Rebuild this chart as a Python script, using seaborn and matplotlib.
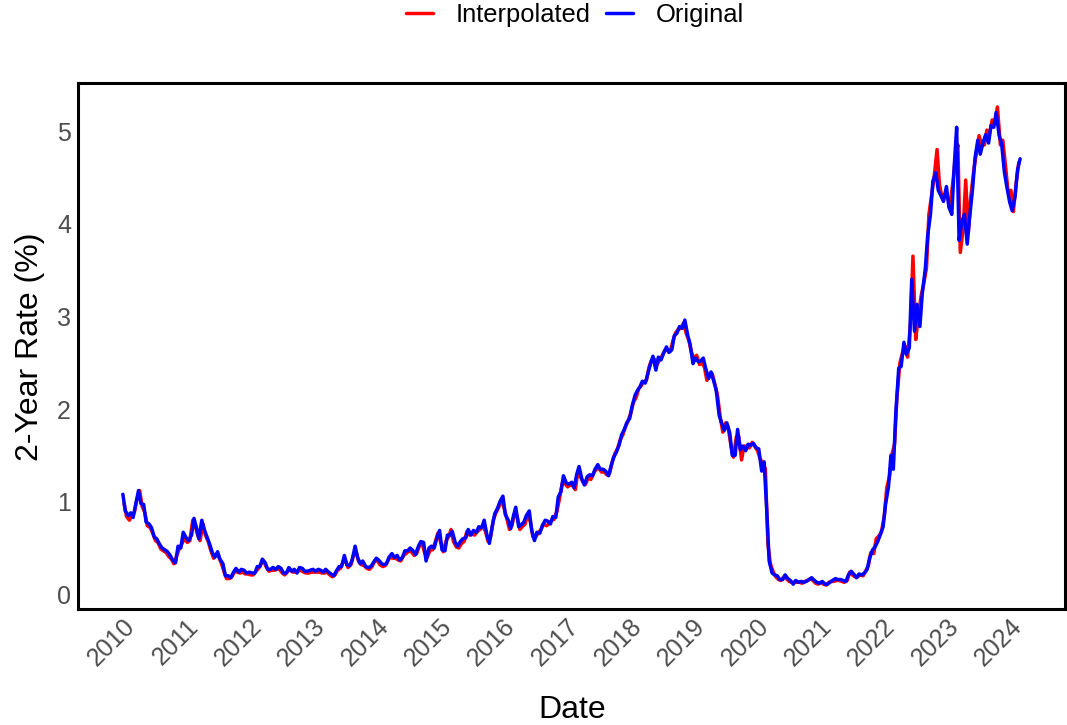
import matplotlib
matplotlib.use("Agg")
import matplotlib.pyplot as plt
import matplotlib.dates as mdates
import numpy as np
import pandas as pd
import seaborn as sns

# 2-year Treasury rate (%), observed twice a month (1st and 15th), Jan 2010 - Mar 2024
original = [
    # 2010
    1.08, 0.90, 0.85, 0.88, 0.83, 0.96, 1.12, 0.98, 0.97, 0.78, 0.76, 0.72,
    0.62, 0.60, 0.54, 0.50, 0.48, 0.46, 0.42, 0.37, 0.34, 0.52, 0.50, 0.67,
    # 2011
    0.61, 0.58, 0.64, 0.82, 0.72, 0.60, 0.80, 0.70, 0.62, 0.55, 0.45, 0.40,
    0.46, 0.38, 0.33, 0.20, 0.20, 0.18, 0.24, 0.28, 0.24, 0.27, 0.26, 0.23,
    # 2012
    0.24, 0.23, 0.23, 0.30, 0.30, 0.38, 0.34, 0.27, 0.27, 0.29, 0.27, 0.30,
    0.28, 0.23, 0.23, 0.29, 0.25, 0.27, 0.23, 0.29, 0.28, 0.25, 0.25, 0.26,
    # 2013
    0.27, 0.25, 0.27, 0.26, 0.24, 0.27, 0.24, 0.22, 0.20, 0.25, 0.30, 0.30,
    0.42, 0.32, 0.31, 0.37, 0.52, 0.40, 0.33, 0.36, 0.30, 0.29, 0.30, 0.34,
    # 2014
    0.39, 0.37, 0.33, 0.32, 0.33, 0.40, 0.44, 0.40, 0.42, 0.37, 0.40, 0.47,
    0.47, 0.50, 0.47, 0.43, 0.52, 0.57, 0.56, 0.36, 0.50, 0.52, 0.50, 0.60,
    # 2015
    0.69, 0.48, 0.47, 0.64, 0.64, 0.68, 0.56, 0.52, 0.57, 0.60, 0.61, 0.70,
    0.64, 0.69, 0.67, 0.73, 0.72, 0.80, 0.64, 0.55, 0.74, 0.87, 0.93, 1.00,
    # 2016
    1.06, 0.86, 0.80, 0.71, 0.84, 0.94, 0.73, 0.75, 0.78, 0.85, 0.90, 0.69,
    0.58, 0.67, 0.66, 0.74, 0.80, 0.79, 0.76, 0.84, 0.83, 1.05, 1.11, 1.28,
    # 2017
    1.20, 1.19, 1.21, 1.15, 1.29, 1.38, 1.24, 1.18, 1.27, 1.29, 1.28, 1.35,
    1.40, 1.35, 1.35, 1.33, 1.28, 1.38, 1.48, 1.53, 1.61, 1.72, 1.78, 1.85,
    # 2018
    1.90, 2.03, 2.15, 2.20, 2.24, 2.30, 2.28, 2.38, 2.49, 2.57, 2.42, 2.56,
    2.53, 2.60, 2.67, 2.61, 2.64, 2.79, 2.82, 2.89, 2.87, 2.96, 2.80, 2.70,
    # 2019
    2.49, 2.55, 2.51, 2.52, 2.55, 2.44, 2.33, 2.40, 2.30, 2.20, 1.93, 1.85,
    1.77, 1.85, 1.74, 1.50, 1.50, 1.78, 1.56, 1.60, 1.55, 1.62, 1.61, 1.63,
    # 2020
    1.58, 1.57, 1.33, 1.43, 0.91, 0.36, 0.23, 0.21, 0.20, 0.16, 0.16, 0.21,
    0.17, 0.15, 0.11, 0.15, 0.13, 0.14, 0.13, 0.14, 0.16, 0.18, 0.15, 0.13,
    # 2021
    0.12, 0.14, 0.11, 0.11, 0.13, 0.15, 0.17, 0.16, 0.16, 0.15, 0.14, 0.21,
    0.25, 0.22, 0.18, 0.22, 0.21, 0.23, 0.27, 0.39, 0.48, 0.51, 0.57, 0.64,
    # 2022
    0.73, 0.97, 1.16, 1.50, 1.35, 1.95, 2.44, 2.46, 2.72, 2.59, 2.66, 3.40,
    2.84, 3.13, 2.89, 3.25, 3.51, 3.87, 4.10, 4.46, 4.55, 4.36, 4.30, 4.24,
    # 2023
    4.40, 4.18, 4.10, 4.62, 5.04, 3.82, 4.03, 4.10, 3.78, 4.07, 4.38, 4.71,
    4.90, 4.75, 4.88, 4.96, 4.87, 5.06, 5.04, 5.20, 4.95, 4.87, 4.56, 4.40,
    # 2024
    4.23, 4.14, 4.30, 4.58, 4.70,
]

# Gap-filled series, sampled on the 8th and 22nd of each month
interpolated = [
    # 2010
    0.98, 0.84, 0.80, 0.86, 0.88, 1.02, 1.12, 0.95, 0.88, 0.74, 0.72, 0.66,
    0.58, 0.56, 0.49, 0.47, 0.45, 0.41, 0.38, 0.33, 0.42, 0.49, 0.55, 0.60,
    # 2011
    0.56, 0.58, 0.80, 0.74, 0.64, 0.58, 0.76, 0.64, 0.57, 0.48, 0.39, 0.43,
    0.40, 0.34, 0.24, 0.17, 0.17, 0.19, 0.25, 0.24, 0.23, 0.24, 0.22, 0.22,
    # 2012
    0.21, 0.21, 0.25, 0.28, 0.33, 0.36, 0.29, 0.25, 0.26, 0.26, 0.27, 0.27,
    0.23, 0.21, 0.25, 0.26, 0.24, 0.24, 0.25, 0.26, 0.24, 0.23, 0.23, 0.24,
    # 2013
    0.24, 0.24, 0.24, 0.23, 0.23, 0.24, 0.21, 0.19, 0.21, 0.26, 0.28, 0.34,
    0.36, 0.29, 0.32, 0.42, 0.45, 0.35, 0.32, 0.31, 0.28, 0.27, 0.30, 0.36,
    # 2014
    0.36, 0.32, 0.30, 0.31, 0.36, 0.40, 0.39, 0.39, 0.37, 0.36, 0.42, 0.44,
    0.47, 0.46, 0.42, 0.44, 0.53, 0.55, 0.44, 0.40, 0.48, 0.48, 0.57, 0.66,
    # 2015
    0.56, 0.46, 0.58, 0.62, 0.70, 0.57, 0.51, 0.50, 0.55, 0.57, 0.68, 0.64,
    0.65, 0.64, 0.68, 0.70, 0.74, 0.68, 0.57, 0.62, 0.81, 0.88, 0.94, 1.02,
    # 2016
    0.93, 0.83, 0.70, 0.74, 0.87, 0.85, 0.70, 0.73, 0.76, 0.86, 0.78, 0.62,
    0.62, 0.66, 0.70, 0.76, 0.74, 0.76, 0.80, 0.81, 0.90, 1.03, 1.20, 1.20,
    # 2017
    1.16, 1.18, 1.17, 1.13, 1.33, 1.27, 1.21, 1.19, 1.26, 1.24, 1.31, 1.35,
    1.36, 1.32, 1.32, 1.29, 1.31, 1.43, 1.52, 1.57, 1.67, 1.72, 1.81, 1.87,
    # 2018
    1.96, 2.07, 2.13, 2.22, 2.25, 2.29, 2.31, 2.45, 2.53, 2.54, 2.48, 2.53,
    2.58, 2.63, 2.64, 2.62, 2.74, 2.82, 2.86, 2.87, 2.93, 2.82, 2.74, 2.62,
    # 2019
    2.54, 2.58, 2.48, 2.50, 2.45, 2.31, 2.36, 2.38, 2.26, 2.15, 1.90, 1.75,
    1.85, 1.81, 1.60, 1.48, 1.70, 1.70, 1.45, 1.60, 1.60, 1.58, 1.64, 1.60,
    # 2020
    1.55, 1.47, 1.40, 1.36, 0.54, 0.33, 0.24, 0.19, 0.16, 0.15, 0.19, 0.17,
    0.14, 0.13, 0.13, 0.13, 0.13, 0.12, 0.14, 0.15, 0.17, 0.15, 0.12, 0.11,
    # 2021
    0.13, 0.11, 0.10, 0.13, 0.14, 0.14, 0.15, 0.15, 0.14, 0.13, 0.15, 0.24,
    0.21, 0.19, 0.19, 0.21, 0.20, 0.25, 0.31, 0.45, 0.44, 0.60, 0.63, 0.67,
    # 2022
    0.85, 1.15, 1.28, 1.52, 1.62, 2.14, 2.50, 2.60, 2.68, 2.56, 2.92, 3.65,
    2.75, 2.98, 3.22, 3.34, 3.52, 4.10, 4.31, 4.50, 4.80, 4.42, 4.28, 4.32,
    # 2023
    4.28, 4.20, 4.46, 4.72, 4.85, 3.69, 3.95, 4.47, 3.92, 4.30, 4.58, 4.75,
    4.95, 4.86, 4.85, 5.01, 4.98, 5.12, 5.10, 5.26, 4.85, 4.90, 4.62, 4.35,
    # 2024
    4.36, 4.13, 4.45, 4.66,
]

series_names = ["Interpolated", "Original"]
series_colors = ["#FF0000", "#0000FF"]
y_ticks = [0, 1, 2, 3, 4, 5]

orig_dates = pd.date_range("2010-01-01", periods=len(original), freq="SMS")
interp_dates = pd.date_range("2010-01-01", periods=len(interpolated), freq="SMS") + pd.Timedelta(days=7)

df = pd.concat([
    pd.DataFrame({"Date": interp_dates, "Rate": interpolated, "Series": "Interpolated"}),
    pd.DataFrame({"Date": orig_dates, "Rate": original, "Series": "Original"}),
], ignore_index=True)

sns.set_theme(style="white")
plt.rcParams["font.family"] = ["Liberation Sans", "DejaVu Sans"]

W, H = 1067, 725
fig = plt.figure(figsize=(W / 100, H / 100), dpi=100)
ax_left, ax_right, ax_top, ax_bottom = 78, 1065, 83, 609
ax = fig.add_axes([ax_left / W, 1 - ax_bottom / H,
                   (ax_right - ax_left) / W, (ax_bottom - ax_top) / H])

sns.lineplot(data=df, x="Date", y="Rate", hue="Series", hue_order=series_names,
             palette=dict(zip(series_names, series_colors)), linewidth=2.5,
             estimator=None, sort=True, ax=ax)

ax.margins(x=0.05, y=0.05)
ax.set_yticks(y_ticks)
ax.set_yticklabels([str(t) for t in y_ticks])
ax.xaxis.set_major_locator(mdates.YearLocator())
ax.xaxis.set_major_formatter(mdates.DateFormatter("%Y"))

ax.tick_params(axis="both", length=0, labelsize=18, labelcolor="#4D4D4D")
ax.tick_params(axis="y", pad=5)
ax.tick_params(axis="x", pad=4)
for lab in ax.get_xticklabels():
    lab.set_rotation(45)
    lab.set_ha("right")
    lab.set_va("top")
    lab.set_rotation_mode("anchor")

for sp in ax.spines.values():
    sp.set_visible(True)
    sp.set_color("black")
    sp.set_linewidth(2.2)
ax.grid(False)

ax.set_xlabel("Date", fontsize=23, color="black", va="center")
ax.set_ylabel("2-Year Rate (%)", fontsize=23, color="black", va="center")
ax.xaxis.set_label_coords((572 - ax_left) / (ax_right - ax_left),
                          (ax_bottom - 710) / (ax_bottom - ax_top))
ax.yaxis.set_label_coords((30 - ax_left) / (ax_right - ax_left),
                          (ax_bottom - 347) / (ax_bottom - ax_top))

sns.move_legend(ax, "center", bbox_to_anchor=(575 / W, 1 - 15 / H),
                bbox_transform=fig.transFigure, ncol=2, title=None,
                frameon=False, fontsize=18.4, handlelength=1.05,
                handletextpad=0.9, columnspacing=0.6)
for txt in ax.get_legend().get_texts():
    txt.set_color("black")

fig.savefig("out.png", dpi=100, facecolor="white")
